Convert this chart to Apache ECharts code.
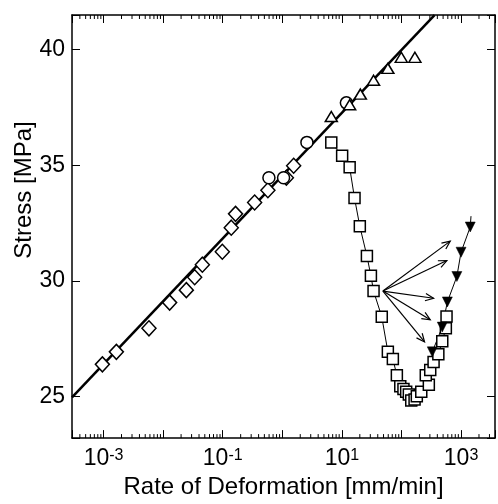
<!DOCTYPE html>
<html><head><meta charset="utf-8">
<script src="https://cdn.jsdelivr.net/npm/echarts@6.0.0/dist/echarts.min.js"></script>
<style>html,body{margin:0;padding:0;background:#fff}#c{width:498px;height:504px}</style>
</head><body><div id="c"></div>
<script>
// ---- axis ranges and tick labels ----
const X_MIN = Math.pow(10, -3.53), X_MAX = Math.pow(10, 3.57);
const Y_MIN = 23.2, Y_MAX = 41.5;
const yTickLabels = [25, 30, 35, 40];
const xLabelExponents = [-3, -1, 1, 3];

// ---- data (rate mm/min, stress MPa) ----
const diamondRate   = [0.000955, 0.00164, 0.00578, 0.01285, 0.0245, 0.0338, 0.0455, 0.0984, 0.139, 0.164, 0.343, 0.573, 1.17, 1.55];
const diamondStress = [26.39, 26.93, 27.95, 29.06, 29.60, 30.16, 30.70, 31.26, 32.30, 32.90, 33.39, 33.92, 34.46, 34.98];

const circleRate   = [0.596, 1.05, 2.59, 11.9];
const circleStress = [34.46, 34.46, 35.99, 37.70];

const triRate   = [6.64, 13.5, 20.4, 34.0, 59.1, 99.3, 168];
const triStress = [37.11, 37.62, 38.08, 38.68, 39.19, 39.67, 39.67];

const squareRate   = [6.64, 10.1, 13.5, 16.3, 20.0, 26.3, 30.7, 34.0, 46.7, 59.1, 71.7, 83.7, 95.5, 108, 120, 133, 146, 166, 181, 215, 288, 256, 304, 346, 416, 484, 556, 571];
const squareStress = [35.99, 35.41, 34.91, 33.58, 32.36, 31.08, 30.22, 29.56, 28.45, 26.94, 26.62, 25.92, 25.44, 25.32, 25.21, 25.09, 24.83, 24.87, 25.01, 25.20, 25.51, 25.92, 26.15, 26.49, 26.83, 27.39, 27.95, 28.46];

const downTriRate   = [1426, 1000, 851, 589, 484, 329];
const downTriStress = [32.33, 31.24, 30.19, 29.09, 28.00, 26.93];
const downTriLineTop = [1470, 32.8];

const fitLineRate   = [0.000295, 359];
const fitLineStress = [24.96, 41.49];

const arrowFrom = [48.8, 29.56];
const arrowToRate   = [659, 578, 346, 304, 244];
const arrowToStress = [31.72, 30.88, 29.25, 28.32, 27.36];

// ---- build ----
const FONT = '"Liberation Sans", Arial, Helvetica, sans-serif';
const zip = (a, b) => a.map((v, i) => [v, b[i]]);

const minorTicks = [];
for (let k = -4; k <= 3; k++) {
  for (let m = 2; m <= 9; m++) {
    const v = m * Math.pow(10, k);
    if (v > X_MIN && v < X_MAX) minorTicks.push([v, Y_MIN]);
  }
}

const openItem = { color: '#fff', borderColor: '#000', borderWidth: 1.5, opacity: 1 };

function xLabelFmt(v) {
  const l = Math.log10(v);
  const e = Math.round(l);
  if (Math.abs(l - e) > 1e-6 || xLabelExponents.indexOf(e) < 0) return '';
  return '{b|10}{s|' + (e < 0 ? '-' : '') + Math.abs(e) + '}';
}

const xBase = {
  type: 'log', logBase: 10, min: X_MIN, max: X_MAX,
  axisLine: { show: true, onZero: false, lineStyle: { color: '#000', width: 1.5 } },
  axisTick: { show: true, inside: true, length: 8, lineStyle: { color: '#000', width: 1 } },
  splitLine: { show: false }, minorTick: { show: false }
};
const yBase = {
  type: 'value', min: Y_MIN, max: Y_MAX, splitNumber: 4,
  axisLine: { show: true, onZero: false, lineStyle: { color: '#000', width: 1.5 } },
  axisTick: { show: true, inside: true, length: 8, lineStyle: { color: '#000', width: 1 } },
  splitLine: { show: false }
};

const option = {
  animation: false,
  backgroundColor: '#fff',
  grid: { left: 72, right: 1, top: 15, bottom: 60, containLabel: false },
  xAxis: [
    Object.assign({}, xBase, {
      position: 'bottom',
      name: 'Rate of Deformation [mm/min]', nameLocation: 'middle', nameGap: 27,
      nameTextStyle: { fontSize: 24, color: '#000', fontFamily: FONT },
      axisLabel: {
        margin: 9, formatter: xLabelFmt, color: '#000',
        rich: {
          b: { fontSize: 23, fontFamily: FONT, color: '#000' },
          s: { fontSize: 16, fontFamily: FONT, color: '#000', verticalAlign: 'top' }
        }
      }
    }),
    Object.assign({}, xBase, { position: 'top', axisLabel: { show: false } })
  ],
  yAxis: [
    Object.assign({}, yBase, {
      position: 'left',
      axisLabel: {
        margin: 7, fontSize: 23, fontFamily: FONT, color: '#000',
        formatter: v => (yTickLabels.indexOf(v) >= 0 ? String(v) : '')
      }
    }),
    Object.assign({}, yBase, { position: 'right', axisLabel: { show: false } })
  ],
  graphic: [{
    type: 'text', x: 24, y: 190, rotation: Math.PI / 2,
    style: { text: 'Stress [MPa]', font: '24px ' + FONT, fill: '#000', textAlign: 'center', textVerticalAlign: 'middle' }
  }],
  series: [
    {
      type: 'custom', name: 'minor ticks', silent: true, clip: false, z: 1,
      data: minorTicks, encode: { x: 0, y: 1 },
      renderItem: function (params, api) {
        const x = api.value(0);
        const pb = api.coord([x, Y_MIN]);
        const pt = api.coord([x, Y_MAX]);
        return { type: 'group', children: [
          { type: 'line', shape: { x1: pb[0], y1: pb[1], x2: pb[0], y2: pb[1] - 4 }, style: { stroke: '#000', lineWidth: 1 } },
          { type: 'line', shape: { x1: pt[0], y1: pt[1], x2: pt[0], y2: pt[1] + 4 }, style: { stroke: '#000', lineWidth: 1 } }
        ] };
      }
    },
    {
      type: 'line', name: 'fit', data: zip(fitLineRate, fitLineStress), showSymbol: false, symbol: 'none',
      lineStyle: { color: '#000', width: 2.5 }, z: 2, silent: true
    },
    {
      type: 'line', name: 'squares', data: zip(squareRate, squareStress),
      symbol: 'rect', symbolSize: 11, showAllSymbol: true,
      lineStyle: { color: '#000', width: 1 }, itemStyle: openItem, z: 3, silent: true
    },
    {
      type: 'line', name: 'down line', data: [downTriLineTop].concat(zip(downTriRate, downTriStress)),
      symbol: 'none', lineStyle: { color: '#000', width: 1 }, z: 3, silent: true
    },
    {
      type: 'scatter', name: 'down triangles', data: zip(downTriRate, downTriStress),
      symbol: 'triangle', symbolRotate: 180, symbolSize: [10, 10],
      itemStyle: { color: '#000', borderColor: '#000', borderWidth: 0.5, opacity: 1 }, z: 6, silent: true
    },
    {
      type: 'scatter', name: 'diamonds', data: zip(diamondRate, diamondStress),
      symbol: 'diamond', symbolSize: [14, 15], itemStyle: openItem, z: 4, silent: true
    },
    {
      type: 'scatter', name: 'circles', data: zip(circleRate, circleStress),
      symbol: 'circle', symbolSize: 12, itemStyle: openItem, z: 5, silent: true
    },
    {
      type: 'scatter', name: 'triangles', data: zip(triRate, triStress),
      symbol: 'triangle', symbolSize: [12, 10], itemStyle: openItem, z: 5, silent: true
    },
    {
      type: 'custom', name: 'arrows', silent: true, z: 7,
      data: arrowToRate.map((r, i) => [arrowFrom[0], arrowFrom[1], r, arrowToStress[i]]),
      encode: { x: [0, 2], y: [1, 3] },
      renderItem: function (params, api) {
        const p0 = api.coord([api.value(0), api.value(1)]);
        const p1 = api.coord([api.value(2), api.value(3)]);
        const a = Math.atan2(p1[1] - p0[1], p1[0] - p0[0]);
        const L = 9, s = 0.42;
        const h1 = [p1[0] - L * Math.cos(a - s), p1[1] - L * Math.sin(a - s)];
        const h2 = [p1[0] - L * Math.cos(a + s), p1[1] - L * Math.sin(a + s)];
        const st = { stroke: '#000', lineWidth: 1.2, fill: null };
        return { type: 'group', children: [
          { type: 'line', shape: { x1: p0[0], y1: p0[1], x2: p1[0], y2: p1[1] }, style: st },
          { type: 'polyline', shape: { points: [h1, p1, h2] }, style: st }
        ] };
      }
    }
  ]
};

const chart = echarts.init(document.getElementById('c'), null, { renderer: 'canvas' });
chart.setOption(option);
</script>
</body></html>
